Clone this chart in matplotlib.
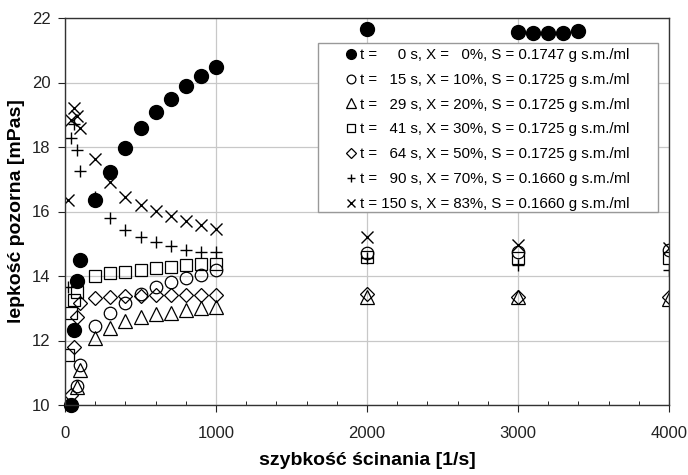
import matplotlib.pyplot as plt
from matplotlib.ticker import MultipleLocator
from matplotlib.patches import Rectangle

plt.rcParams['font.family'] = ['Liberation Sans', 'DejaVu Sans']

# shear rate values [1/s] and apparent viscosity [mPas] for each sample
x_s0 = [40, 60, 80, 100, 200, 300, 400, 500, 600, 700, 800, 900, 1000, 2000, 3000, 3100, 3200, 3300, 3400]
y_s0 = [10.0, 12.33, 13.84, 14.5, 16.36, 17.22, 17.97, 18.6, 19.1, 19.5, 19.9, 20.2, 20.48, 21.66, 21.57, 21.55, 21.55, 21.53, 21.6]

x_s1 = [80, 100, 200, 300, 400, 500, 600, 700, 800, 900, 1000, 2000, 3000, 4000]
y_s1 = [10.6, 11.24, 12.45, 12.85, 13.17, 13.45, 13.66, 13.8, 13.93, 14.03, 14.18, 14.7, 14.74, 14.8]

x_s2 = [80, 100, 200, 300, 400, 500, 600, 700, 800, 900, 1000, 2000, 3000, 4000]
y_s2 = [10.56, 11.08, 12.07, 12.38, 12.6, 12.73, 12.82, 12.86, 12.95, 13.0, 13.05, 13.35, 13.35, 13.3]

x_s3 = [20, 40, 60, 80, 200, 300, 400, 500, 600, 700, 800, 900, 1000, 2000, 3000, 4000]
y_s3 = [11.55, 12.86, 13.25, 13.5, 14.0, 14.09, 14.12, 14.18, 14.24, 14.29, 14.34, 14.37, 14.37, 14.6, 14.55, 14.55]

x_s4 = [40, 60, 80, 100, 200, 300, 400, 500, 600, 700, 800, 900, 1000, 2000, 3000, 4000]
y_s4 = [10.3, 11.8, 12.73, 13.15, 13.32, 13.35, 13.37, 13.38, 13.4, 13.4, 13.42, 13.42, 13.42, 13.45, 13.35, 13.35]

x_s5 = [20, 40, 60, 80, 100, 200, 300, 400, 500, 600, 700, 800, 900, 1000, 2000, 3000, 4000]
y_s5 = [13.65, 18.27, 18.72, 17.9, 17.27, 16.45, 15.8, 15.43, 15.22, 15.06, 14.93, 14.8, 14.75, 14.73, 14.56, 14.34, 14.19]

x_s6 = [20, 40, 60, 80, 100, 200, 300, 400, 500, 600, 700, 800, 900, 1000, 2000, 3000, 4000]
y_s6 = [16.36, 18.85, 19.2, 18.95, 18.6, 17.62, 16.9, 16.46, 16.2, 16.03, 15.85, 15.72, 15.58, 15.46, 15.2, 14.96, 14.87]

labels = [
    "t =     0 s, X =   0%, S = 0.1747 g s.m./ml",
    "t =   15 s, X = 10%, S = 0.1725 g s.m./ml",
    "t =   29 s, X = 20%, S = 0.1725 g s.m./ml",
    "t =   41 s, X = 30%, S = 0.1725 g s.m./ml",
    "t =   64 s, X = 50%, S = 0.1725 g s.m./ml",
    "t =   90 s, X = 70%, S = 0.1660 g s.m./ml",
    "t = 150 s, X = 83%, S = 0.1660 g s.m./ml",
]

fig = plt.figure(figsize=(6.88, 4.75), dpi=100)
ax = fig.add_axes([65 / 688, 70 / 475, 604 / 688, 387 / 475])

ax.plot(x_s0, y_s0, 'o', color='black', ms=10, ls='none', label=labels[0], clip_on=False)
ax.plot(x_s1, y_s1, 'o', mfc='none', mec='black', mew=0.9, ms=9, ls='none', label=labels[1])
ax.plot(x_s2, y_s2, '^', mfc='none', mec='black', mew=0.9, ms=10, ls='none', label=labels[2])
ax.plot(x_s3, y_s3, 's', mfc='none', mec='black', mew=0.9, ms=9, ls='none', label=labels[3])
ax.plot(x_s4, y_s4, 'D', mfc='none', mec='black', mew=0.9, ms=7, ls='none', label=labels[4])
ax.plot(x_s5, y_s5, '+', color='black', mew=1.0, ms=9, ls='none', label=labels[5])
ax.plot(x_s6, y_s6, 'x', color='black', mew=1.0, ms=9, ls='none', label=labels[6])

ax.set_xlim(0, 4000)
ax.set_ylim(10, 22)
ax.xaxis.set_major_locator(MultipleLocator(1000))
ax.xaxis.set_minor_locator(MultipleLocator(200))
ax.yaxis.set_major_locator(MultipleLocator(2))
ax.grid(True, which='major', color='#c8c8c8', lw=0.9)
ax.set_axisbelow(True)
ax.tick_params(which='major', direction='out', length=5, labelsize=12, colors='#222222')
ax.tick_params(axis='x', which='major', pad=10)
ax.tick_params(axis='y', which='major', pad=5.5)
ax.tick_params(which='minor', direction='in', length=3)
for sp in ax.spines.values():
    sp.set_linewidth(1.0)
    sp.set_color('#333333')

ax.set_xlabel("szybkość ścinania [1/s]", fontsize=14, fontweight='bold', labelpad=8)
ax.set_ylabel("lepkość pozorna [mPas]", fontsize=14, fontweight='bold', labelpad=5)

# legend box drawn separately so the side padding can be wider than the top/bottom
box = Rectangle((0.419, 0.4987), 0.563, 0.4367, transform=ax.transAxes,
                facecolor='white', edgecolor='#999999', lw=1.0, zorder=4)
ax.add_patch(box)
leg = ax.legend(loc='upper left', bbox_to_anchor=(0.4636, 0.9225), fontsize=10.8,
                frameon=False, markerscale=0.7, handlelength=0.8, handletextpad=0.2,
                labelspacing=0.72, borderpad=0, borderaxespad=0)
leg.set_zorder(5)

fig.savefig("out.png", dpi=100)
